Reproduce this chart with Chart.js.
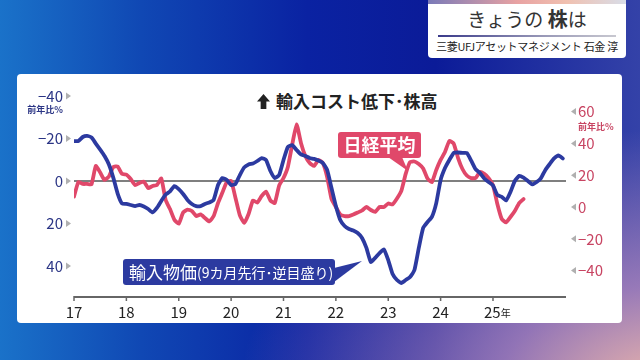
<!DOCTYPE html>
<html>
<head>
<meta charset="utf-8">
<script src="https://cdn.jsdelivr.net/npm/chart.js@4.4.1/dist/chart.umd.min.js"></script>
<style>
  body{margin:0;width:640px;height:360px;overflow:hidden;position:relative;
    font-family:"Noto Sans CJK JP","Noto Sans",sans-serif;
    background:
      radial-gradient(ellipse 430px 260px at 670px 390px, rgba(240,185,170,1) 0%, rgba(185,140,190,0.75) 40%, rgba(100,90,180,0) 100%),
      linear-gradient(90deg,#1a72c9 0%,#1048b4 22%,#0a22a2 48%,#0b1b98 68%,#3442a8 100%);}
  #panel{position:absolute;left:17px;top:74px;width:605px;height:249px;background:#fff;border-radius:4px}
  #box{position:absolute;left:428px;top:-3px;width:198px;height:61px;background:#fff;border-radius:4px;overflow:hidden}
  #box .strip{height:7px;background:linear-gradient(90deg,#7a7ab8,#e8a2a2 45%,#f0c0b0 70%,#d8dde8)}
  #box .t1{text-align:center;font-size:19px;color:#333;margin-top:2px;line-height:26px}
  #box .t1 b{font-weight:700;color:#333;font-size:20px}
  #box .ln{margin:3px 10px 0;height:2px;background:linear-gradient(90deg,#3a3a8a,#9a9ab8 60%,#c8c8d0)}
  #box .t2{text-align:center;font-size:11px;color:#222;line-height:16px;margin-top:1px;letter-spacing:-0.3px}
  #ttl{position:absolute;left:257px;top:88px;font-size:17px;font-weight:700;color:#222;white-space:nowrap}
  #ttl span.ar{display:inline-block;width:13px;height:15px;vertical-align:-1px;margin-right:6px;
    background:#222;clip-path:polygon(50% 0,100% 50%,72% 50%,72% 100%,28% 100%,28% 50%,0 50%)}
  canvas{position:absolute;left:0;top:0}
</style>
</head>
<body>
<div id="panel"></div>
<div id="box">
  <div class="strip"></div>
  <div class="t1">きょうの <b>株</b>は</div>
  <div class="ln"></div>
  <div class="t2">三菱UFJアセットマネジメント 石金 淳</div>
</div>
<div id="ttl"><span class="ar"></span>輸入コスト低下･株高</div>
<canvas id="c" width="640" height="360"></canvas>
<script>
// monthly values from Jan 2017
var startYear = 2017;
var yearLabels = ['17','18','19','20','21','22','23','24','25'];
var leftTicks = [-40, -20, 0, 20, 40];
var rightTicks = [60, 40, 20, 0, -20, -40];

// import prices, yoy %, 9 months ahead, reversed axis
var importPrice = [
  -18.8,-18.8,-20.7,-21.2,-20.5,-17.6,-14.8,-11.8,-7.8,-1.6,5.9,10.6,
  10.8,11.3,11.8,11.3,12,13.2,14.8,12.7,9.4,6.4,4.9,2.4,
  3.8,6.1,8.9,10.8,11.8,11.8,10.8,10.1,8.9,1.9,-1.4,-0.5,
  1.9,1.4,-2.8,-6.4,-7.8,-8.2,-9.4,-10.8,-9.9,-4.7,-1.4,-2.8,
  -9.9,-16,-16.9,-14.6,-12.5,-11.8,-10.8,-10.4,-9.6,-8.5,-5.2,3.3,
  11.8,18.4,21.2,22.6,23.3,24.5,26.8,31.5,38.1,36.2,33.9,32.2,
  37.2,43.8,46.6,48,46.6,45.2,41.9,31.5,22.1,19.3,16.9,10.4,
  -0.5,-6.1,-9.9,-13.2,-13.4,-13.2,-13.2,-9.6,-5.6,-3.8,-1.2,0.5,
  2.1,6.6,7.5,9.2,5.2,0,-2.4,-1.6,0,1.6,0.5,-1.4,
  -5.2,-8,-10.6,-12,-10.6
];
// nikkei average, yoy %
var nikkei = [
  6.5,15.7,14.5,14.5,14.2,25.8,21.7,17,19.2,25.2,25.5,20.8,
  20.4,17.6,13.8,15.1,16,11.9,13.2,13.8,17.9,4.4,-1.3,-8,
  -10.5,-3.5,-1.6,-2.5,-5.7,-4.7,-6.9,-9.1,-5.7,2.5,9.1,15.7,
  16.4,5.7,-5.3,-10,-4.4,4.1,2.8,6.9,9.7,4.1,2.5,13.5,
  18.2,25.2,39.3,52,40.3,32.1,27.7,25.8,29.6,27.7,18.9,5,
  0,-4.7,-5.7,-5.7,-4.7,-3.5,-2.2,0,-1.9,-3.1,0,0,
  2.2,1.6,5.3,10.1,20.8,28.3,28.6,27,24.2,17.9,15.7,23.3,
  29.6,34.6,41.5,39.9,30.8,23.9,19.8,18.2,18.2,22,20.8,18.2,
  13.8,1.9,-7.5,-9.7,-6.3,-2.5,2.5,5
];

function toPoints(arr){
  return arr.map(function(v, i){ return {x: startYear + i/12, y: v}; });
}

var FONT = '"Noto Sans CJK JP","Noto Sans",sans-serif';
var BLUE = '#2c3aa0';
var RED = '#e0486a';

function fmt(v){ return v < 0 ? '\u2212' + Math.abs(v) : String(v); }

var deco = {
  id: 'deco',
  beforeDatasetsDraw: function(chart){
    var ctx = chart.ctx, x = chart.scales.x, yL = chart.scales.yL, yR = chart.scales.yR;
    ctx.save();
    // zero line
    var y0 = yL.getPixelForValue(0);
    ctx.strokeStyle = '#555'; ctx.lineWidth = 1.5;
    ctx.beginPath(); ctx.moveTo(x.left, y0); ctx.lineTo(x.right, y0); ctx.stroke();
    // x axis
    var yb = chart.chartArea.bottom;
    ctx.strokeStyle = '#666'; ctx.lineWidth = 2;
    ctx.beginPath(); ctx.moveTo(x.left, yb); ctx.lineTo(x.right, yb); ctx.stroke();
    ctx.lineWidth = 1.5;
    ctx.fillStyle = '#222'; ctx.textAlign = 'center'; ctx.textBaseline = 'middle';
    yearLabels.forEach(function(lb, i){
      var px = x.getPixelForValue(startYear + i);
      ctx.beginPath(); ctx.moveTo(px, yb - 1); ctx.lineTo(px, yb + 4); ctx.stroke();
      ctx.font = '15px ' + FONT;
      if (i === yearLabels.length - 1) {
        ctx.textAlign = 'left';
        ctx.fillText(lb, px - 9, yb + 15);
        var w = ctx.measureText(lb).width;
        ctx.font = '10px ' + FONT;
        ctx.fillText('年', px - 9 + w, yb + 16);
        ctx.textAlign = 'center';
      } else {
        ctx.fillText(lb, px, yb + 15);
      }
    });
    // left axis labels
    ctx.font = '15px ' + FONT;
    leftTicks.forEach(function(v){
      var py = yL.getPixelForValue(v);
      ctx.fillStyle = '#2b3585'; ctx.textAlign = 'right';
      ctx.fillText(fmt(v), 63, py);
      ctx.fillStyle = '#b0b0b0';
      ctx.beginPath(); ctx.moveTo(66, py - 3.5); ctx.lineTo(71, py); ctx.lineTo(66, py + 3.5); ctx.fill();
    });
    ctx.fillStyle = '#2b3585'; ctx.font = 'bold 9px ' + FONT; ctx.textAlign = 'right';
    ctx.fillText('前年比%', 63, yL.getPixelForValue(-40) + 14);
    // right axis labels
    ctx.font = '15px ' + FONT;
    rightTicks.forEach(function(v){
      var py = yR.getPixelForValue(v);
      ctx.fillStyle = '#b0b0b0';
      ctx.beginPath(); ctx.moveTo(576, py - 3.5); ctx.lineTo(571, py); ctx.lineTo(576, py + 3.5); ctx.fill();
      ctx.fillStyle = '#c84462'; ctx.textAlign = 'left';
      ctx.fillText(fmt(v), 578, py);
    });
    ctx.fillStyle = '#c84462'; ctx.font = 'bold 9px ' + FONT; ctx.textAlign = 'left';
    ctx.fillText('前年比%', 578, yR.getPixelForValue(60) + 15);
    ctx.restore();
  },
  afterDatasetsDraw: function(chart){
    var ctx = chart.ctx;
    ctx.save();
    // nikkei callout
    ctx.fillStyle = RED;
    ctx.beginPath();
    ctx.roundRect(338, 132, 83, 26, 3); ctx.fill();
    ctx.beginPath(); ctx.moveTo(388, 157); ctx.lineTo(408, 171); ctx.lineTo(402, 157); ctx.fill();
    ctx.fillStyle = '#fff'; ctx.font = 'bold 18px ' + FONT;
    ctx.textAlign = 'center'; ctx.textBaseline = 'middle';
    ctx.fillText('日経平均', 379.5, 145.5);
    // import price callout
    ctx.fillStyle = BLUE;
    ctx.beginPath();
    ctx.roundRect(123, 259, 212, 26, 3); ctx.fill();
    ctx.beginPath(); ctx.moveTo(334, 268); ctx.lineTo(362, 261); ctx.lineTo(334, 282); ctx.fill();
    ctx.fillStyle = '#fff'; ctx.textAlign = 'left';
    ctx.font = '17px ' + FONT;
    ctx.fillText('輸入物価', 129, 272.5);
    var w = ctx.measureText('輸入物価').width;
    ctx.font = '14px ' + FONT;
    ctx.fillText('(9カ月先行･逆目盛り)', 129 + w, 273);
    ctx.restore();
  }
};

new Chart(document.getElementById('c'), {
  type: 'line',
  data: {
    datasets: [
      {label: '輸入物価', data: toPoints(importPrice), yAxisID: 'yL', borderColor: BLUE,
       borderWidth: 3.8, pointRadius: 0, tension: 0.15, borderJoinStyle: 'round', borderCapStyle: 'round'},
      {label: '日経平均', data: toPoints(nikkei), yAxisID: 'yR', borderColor: RED,
       borderWidth: 3.8, pointRadius: 0, tension: 0.15, borderJoinStyle: 'round', borderCapStyle: 'round'}
    ]
  },
  options: {
    responsive: false,
    devicePixelRatio: 1,
    animation: false,
    layout: {padding: {left: 74, right: 74, top: 96, bottom: 63}},
    plugins: {legend: {display: false}, tooltip: {enabled: false}},
    scales: {
      x: {type: 'linear', min: 2017, max: 2026.394, display: false},
      yL: {type: 'linear', position: 'left', min: -40, max: 54.6, reverse: true, display: false},
      yR: {type: 'linear', position: 'right', min: -56.6, max: 69.8, display: false}
    }
  },
  plugins: [deco]
});
</script>
</body>
</html>
